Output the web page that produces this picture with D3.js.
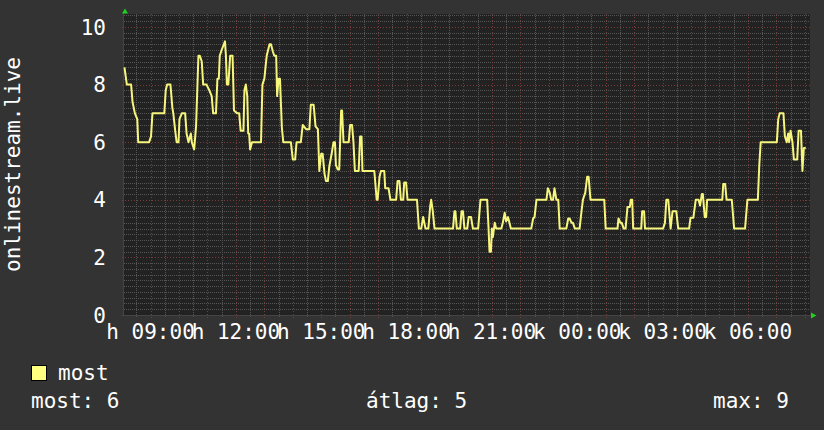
<!DOCTYPE html>
<html>
<head>
<meta charset="utf-8">
<script src="https://cdn.jsdelivr.net/npm/d3@7"></script>
<style>
  html, body { margin: 0; padding: 0; background: #333; }
  svg { display: block; }
  text { font-family: "DejaVu Sans Mono", monospace; font-size: 21px; fill: #fff; }
</style>
</head>
<body>
<svg id="chart" width="824" height="430"></svg>
<script>
// [minutes since Monday 08:00, listeners]
const samples = [
  [5, 8.6], [10, 8.0], [19, 8.0], [22, 7.4], [27, 7.0], [32, 6.8], [34, 6.0], [57, 6.0],
  [61, 6.2], [64, 7.0], [89, 7.0], [92, 7.8], [95, 8.0], [102, 8.0], [106, 7.2], [108, 7.0],
  [112, 6.4], [115, 6.0], [119, 6.0], [121, 6.8], [126, 7.0], [133, 7.0], [136, 6.3], [140, 6.0],
  [145, 6.3], [147, 6.0], [152, 5.75], [156, 6.55], [161, 9.0], [164, 9.0], [168, 8.8], [171, 8.0],
  [178, 8.0], [184, 7.8], [189, 7.6], [192, 7.0], [198, 7.0], [201, 8.2], [204, 8.2], [206, 9.0],
  [210, 9.2], [217, 9.5], [219, 9.0], [221, 8.0], [224, 8.0], [228, 9.0], [233, 9.0], [236, 7.1],
  [243, 7.0], [247, 7.0], [250, 6.4], [256, 6.4], [258, 7.8], [261, 8.0], [264, 7.6], [266, 6.3],
  [268, 6.3], [270, 5.75], [274, 6.0], [293, 6.0], [296, 8.0], [300, 8.2], [305, 9.0], [311, 9.4],
  [314, 9.4], [318, 9.15], [321, 9.0], [325, 9.0], [327, 7.6], [330, 8.2], [333, 8.2], [337, 6.5],
  [340, 6.0], [356, 6.0], [360, 5.4], [365, 5.4], [368, 6.0], [377, 6.0], [381, 6.6], [388, 6.45],
  [395, 6.45], [398, 7.3], [404, 7.3], [408, 6.55], [413, 6.45], [416, 5.0], [420, 5.6], [423, 5.6],
  [427, 4.9], [430, 4.65], [434, 4.65], [437, 5.15], [442, 5.6], [446, 6.0], [449, 6.0], [451, 5.2],
  [455, 5.05], [458, 5.05], [462, 7.1], [464, 7.1], [467, 6.0], [478, 6.0], [481, 6.6], [485, 6.6],
  [488, 6.0], [491, 5.0], [499, 5.0], [502, 6.2], [505, 6.2], [507, 5.0], [532, 5.0], [537, 4.0],
  [539, 4.0], [543, 4.8], [546, 5.0], [553, 5.0], [555, 4.4], [562, 4.4], [566, 4.0], [578, 4.0],
  [581, 4.65], [585, 4.65], [588, 4.0], [593, 4.0], [595, 4.6], [599, 4.6], [602, 4.0], [622, 4.0],
  [626, 3.0], [631, 3.0], [635, 3.4], [640, 3.0], [646, 3.0], [650, 3.8], [652, 4.0], [655, 3.65],
  [659, 3.0], [698, 3.0], [701, 3.6], [703, 3.6], [706, 3.0], [713, 3.0], [716, 3.6], [719, 3.6],
  [722, 3.0], [728, 3.0], [731, 3.4], [736, 3.4], [740, 3.0], [751, 3.0], [756, 4.0], [770, 4.0],
  [773, 3.0], [775, 2.2], [778, 2.2], [780, 3.0], [782, 2.7], [786, 3.2], [789, 3.0], [800, 3.0],
  [803, 3.2], [807, 3.55], [810, 3.25], [814, 3.4], [817, 3.2], [820, 3.0], [863, 3.0], [867, 3.35],
  [870, 3.4], [874, 4.0], [895, 4.0], [898, 4.4], [902, 4.25], [905, 4.0], [909, 4.0], [912, 4.4],
  [916, 4.0], [920, 4.0], [923, 3.0], [937, 3.0], [941, 3.35], [944, 3.35], [948, 3.2], [951, 3.2],
  [955, 3.0], [965, 3.0], [969, 3.6], [972, 4.0], [977, 4.25], [981, 4.8], [984, 4.8], [988, 4.0],
  [1017, 4.0], [1020, 3.0], [1045, 3.0], [1047, 3.35], [1051, 3.2], [1054, 3.2], [1058, 3.0], [1062, 3.0],
  [1066, 3.75], [1071, 3.75], [1073, 4.0], [1076, 4.0], [1078, 3.0], [1095, 3.0], [1097, 3.6], [1101, 3.6],
  [1103, 3.0], [1141, 3.0], [1145, 3.2], [1148, 4.0], [1152, 4.0], [1155, 3.4], [1157, 3.0], [1161, 3.6],
  [1169, 3.6], [1173, 3.0], [1196, 3.0], [1199, 3.38], [1205, 3.38], [1210, 4.0], [1216, 4.0], [1219, 3.8],
  [1223, 4.2], [1225, 4.2], [1229, 3.4], [1232, 3.4], [1234, 4.0], [1266, 4.0], [1268, 4.55], [1272, 4.55],
  [1275, 4.0], [1286, 4.0], [1291, 3.0], [1314, 3.0], [1319, 4.0], [1341, 4.0], [1344, 5.2], [1347, 6.0],
  [1381, 6.0], [1384, 6.8], [1387, 7.0], [1395, 7.0], [1398, 6.2], [1402, 6.0], [1405, 6.3], [1407, 6.0],
  [1410, 6.4], [1414, 6.0], [1417, 5.4], [1424, 5.4], [1427, 6.4], [1432, 6.4], [1435, 5.0], [1438, 5.8],
  [1442, 5.8]
]

const timeDomain = [4, 1451]          // 08:04 Mon .. 08:11 Tue
const valueDomain = [0, 10.45]
const yTicks = [0, 2, 4, 6, 8, 10]
const labelMinutes = [60, 240, 420, 600, 780, 960, 1140, 1320]
const labelTexts = ['h 09:00', 'h 12:00', 'h 15:00', 'h 18:00', 'h 21:00', 'k 00:00', 'k 03:00', 'k 06:00']
const axisTitle = 'onlinestream.live'
const seriesName = 'most'
const statNames = ['most', 'átlag', 'max']
const statValues = [6, 5, 9]

const plot = { left: 124, right: 810, top: 14, bottom: 315 }
const svg = d3.select('#chart')

const x = d3.scaleLinear().domain(timeDomain).range([plot.left, plot.right])
const y = d3.scaleLinear().domain(valueDomain).range([plot.bottom, plot.top])
const snap = (v) => Math.round(v) + 0.5

svg.append('rect').attr('width', 824).attr('height', 430).attr('fill', '#333')
svg.append('rect')
  .attr('x', plot.left).attr('y', plot.top)
  .attr('width', plot.right - plot.left).attr('height', plot.bottom - plot.top)
  .attr('fill', '#222')

const grid = svg.append('g').attr('shape-rendering', 'crispEdges')

// minor grid
const minorY = d3.range(0.2, valueDomain[1], 0.2).filter((v) => Math.abs(v / 2 - Math.round(v / 2)) > 1e-6)
grid.selectAll('.hmin').data(minorY).join('line')
  .attr('x1', plot.left).attr('x2', plot.right)
  .attr('y1', (d) => snap(y(d))).attr('y2', (d) => snap(y(d)))
  .attr('stroke', '#555').attr('stroke-dasharray', '1 1')
const minorX = d3.range(30, timeDomain[1], 60)
grid.selectAll('.vmin').data(minorX).join('line')
  .attr('x1', (d) => snap(x(d))).attr('x2', (d) => snap(x(d)))
  .attr('y1', plot.top).attr('y2', plot.bottom + 2)
  .attr('stroke', '#555').attr('stroke-dasharray', '1 1')

// major grid
grid.selectAll('.hmaj').data(yTicks.slice(1)).join('line')
  .attr('x1', plot.left - 2).attr('x2', plot.right)
  .attr('y1', (d) => snap(y(d))).attr('y2', (d) => snap(y(d)))
  .attr('stroke', '#7c3b3b').attr('stroke-dasharray', '1 2')
const majorX = d3.range(60, timeDomain[1], 60)
grid.selectAll('.vmaj').data(majorX).join('line')
  .attr('x1', (d) => snap(x(d))).attr('x2', (d) => snap(x(d)))
  .attr('y1', plot.top).attr('y2', plot.bottom + 3)
  .attr('stroke', '#7c3b3b').attr('stroke-dasharray', '1 2')

// axes
svg.append('line')
  .attr('x1', plot.left - 0.5).attr('x2', plot.left - 0.5)
  .attr('y1', 12).attr('y2', plot.bottom + 1)
  .attr('stroke', '#444')
svg.append('line')
  .attr('x1', plot.left - 3).attr('x2', plot.right + 2)
  .attr('y1', plot.bottom + 0.5).attr('y2', plot.bottom + 0.5)
  .attr('stroke', '#444')
svg.append('path')
  .attr('d', 'M125,8.5 L122,13.5 L128,13.5 Z')
  .attr('fill', '#1fd21f')
svg.append('path')
  .attr('d', `M816.5,${plot.bottom + 0.5} L811,${plot.bottom - 2.5} L811,${plot.bottom + 3.5} Z`)
  .attr('fill', '#1fd21f')

// series
const line = d3.line().x((d) => x(d[0])).y((d) => y(d[1]))
svg.append('path')
  .datum(samples)
  .attr('d', line)
  .attr('fill', 'none')
  .attr('stroke', '#f6f67c')
  .attr('stroke-width', 2)
  .attr('stroke-linejoin', 'round')

// labels
svg.append('g').selectAll('text').data(yTicks).join('text')
  .attr('x', 106)
  .attr('y', (d) => y(d) + 7.6)
  .attr('text-anchor', 'end')
  .text((d) => d)

svg.append('g').selectAll('text').data(labelMinutes).join('text')
  .attr('x', (d) => x(d))
  .attr('y', 339)
  .attr('text-anchor', 'middle')
  .text((d, i) => labelTexts[i])

svg.append('text')
  .attr('transform', `translate(19.5,${(plot.top + plot.bottom) / 2}) rotate(-90)`)
  .attr('text-anchor', 'middle')
  .text(axisTitle)

// legend
svg.append('rect')
  .attr('x', 31.5).attr('y', 365.5).attr('width', 15).attr('height', 15)
  .attr('fill', '#ffff80').attr('stroke', '#000')
svg.append('text').attr('x', 58).attr('y', 380).text(seriesName)

const statX = [31, 366, 713]
svg.append('g').selectAll('text').data(statNames).join('text')
  .attr('x', (d, i) => statX[i])
  .attr('y', 408)
  .text((d, i) => `${d}: ${statValues[i]}`)
</script>
</body>
</html>
